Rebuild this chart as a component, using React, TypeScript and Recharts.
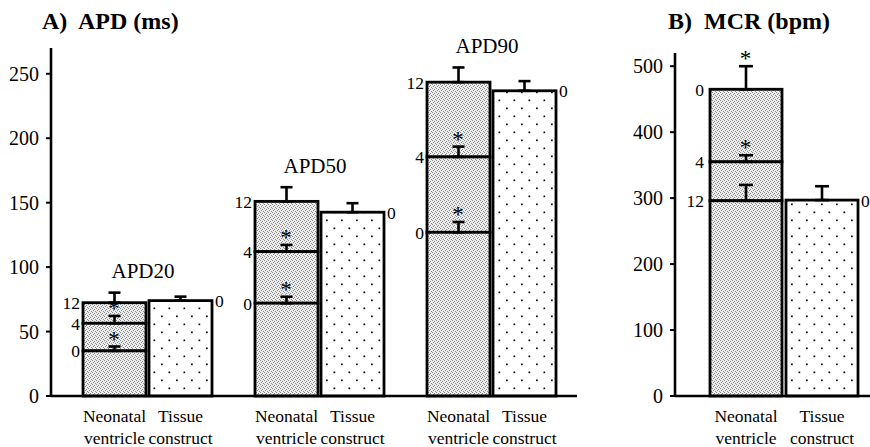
import React from 'react';
import { BarChart, Bar, XAxis, YAxis, ErrorBar, ReferenceDot } from 'recharts';

const FONT = '"Liberation Serif", "Times New Roman", Times, serif';

// ---------- Panel A: APD (ms) ----------
const apdCategories = ['APD20', 'APD50', 'APD90'];
const apdDay0 = [35, 72, 127];
const apdDay0Err = [3.4, 5, 8];
const apdDay4 = [56.4, 112, 185.5];
const apdDay4Err = [5.7, 5.2, 8];
const apdDay12 = [72.4, 151, 243.5];
const apdDay12Err = [7.8, 11, 11.4];
const apdTissue = [74, 142.6, 236.8];
const apdTissueErr = [3.1, 7, 7.5];
const apdStarDay0 = [true, true, true];
const apdStarDay4 = [true, true, true];
const apdStarDay12 = [false, false, false];
const apdTicks = [0, 50, 100, 150, 200, 250];

// ---------- Panel B: MCR (bpm) ----------
const mcrCategories = ['MCR'];
const mcrDay0 = [465];
const mcrDay0Err = [35];
const mcrDay4 = [355];
const mcrDay4Err = [10];
const mcrDay12 = [296];
const mcrDay12Err = [24];
const mcrTissue = [297];
const mcrTissueErr = [21];
const mcrStarDay0 = [true];
const mcrStarDay4 = [true];
const mcrStarDay12 = [false];
const mcrTicks = [0, 100, 200, 300, 400, 500];

// ---------- text labels ----------
const dayNames = ['0', '4', '12'];
const tissueDayName = '0';
const neonatalName = ['Neonatal', 'ventricle'];
const tissueName = ['Tissue', 'construct'];
const titleA = 'A)\u00a0 APD (ms)';
const titleB = 'B)\u00a0 MCR (bpm)';

type Level = { day: string; v: number; e: number; star: boolean };

function buildRows(
  cats: string[],
  d0: number[], e0: number[], s0: boolean[],
  d4: number[], e4: number[], s4: boolean[],
  d12: number[], e12: number[], s12: boolean[],
  t: number[], te: number[]
) {
  return cats.map((c, i) => {
    const lv: Level[] = [
      { day: dayNames[0], v: d0[i], e: e0[i], star: s0[i] },
      { day: dayNames[1], v: d4[i], e: e4[i], star: s4[i] },
      { day: dayNames[2], v: d12[i], e: e12[i], star: s12[i] },
    ].sort((a, b) => a.v - b.v);
    return {
      cat: c,
      s1: lv[0].v,
      s2: lv[1].v - lv[0].v,
      s3: lv[2].v - lv[1].v,
      e1: [0, lv[0].e],
      e2: [0, lv[1].e],
      e3: [0, lv[2].e],
      l1: lv[0].day,
      l2: lv[1].day,
      l3: lv[2].day,
      levels: lv,
      tissue: t[i],
      tissueErr: [0, te[i]],
    };
  });
}

const apdRows = buildRows(
  apdCategories,
  apdDay0, apdDay0Err, apdStarDay0,
  apdDay4, apdDay4Err, apdStarDay4,
  apdDay12, apdDay12Err, apdStarDay12,
  apdTissue, apdTissueErr
);
const mcrRows = buildRows(
  mcrCategories,
  mcrDay0, mcrDay0Err, mcrStarDay0,
  mcrDay4, mcrDay4Err, mcrStarDay4,
  mcrDay12, mcrDay12Err, mcrStarDay12,
  mcrTissue, mcrTissueErr
);

const BarName = ({ cx, y, lines }: { cx: number; y: number; lines: string[] }) => (
  <text x={cx} textAnchor="middle" fontSize={17.5} fontFamily={FONT} fill="#000">
    <tspan x={cx} y={y + 26}>{lines[0]}</tspan>
    <tspan x={cx} y={y + 47.5}>{lines[1]}</tspan>
  </text>
);

function makeSegShape(labelKey: string, fillId: string, labelGap: number, isBottom: boolean) {
  return (props: any) => {
    const { x, y, width, height } = props;
    const row = props.payload || props;
    return (
      <g>
        <rect x={x} y={y} width={width} height={height} fill={`url(#${fillId})`} stroke="#000" strokeWidth={2.8} />
        <text x={x - labelGap} y={y + 6.5} textAnchor="end" fontSize={17.5} fontFamily={FONT} fill="#000">
          {row[labelKey]}
        </text>
        {isBottom && <BarName cx={x + width / 2} y={y + height} lines={neonatalName} />}
      </g>
    );
  };
}

function makeTissueShape(fillId: string) {
  return (props: any) => {
    const { x, y, width, height } = props;
    return (
      <g>
        <rect x={x} y={y} width={width} height={height} fill={`url(#${fillId})`} stroke="#000" strokeWidth={2.8} />
        <text x={x + width + 3} y={y + 6.5} textAnchor="start" fontSize={17.5} fontFamily={FONT} fill="#000">
          {tissueDayName}
        </text>
        <BarName cx={x + width / 2} y={y + height} lines={tissueName} />
      </g>
    );
  };
}

function makeStar(shift: number) {
  return (p: any) => (
    <text x={p.cx - shift} y={p.cy} textAnchor="middle" fontSize={23} fontFamily={FONT} fill="#000">
      *
    </text>
  );
}

function makeGroupLabel(text: string) {
  return (p: any) => (
    <text x={p.cx - 4} y={p.cy - 14.5} textAnchor="middle" fontSize={21} fontFamily={FONT} fill="#000">
      {text}
    </text>
  );
}

const Patterns = ({ suffix }: { suffix: string }) => (
  <defs>
    <pattern id={`nv${suffix}`} patternUnits="userSpaceOnUse" width={4} height={4}>
      <rect x={0} y={0} width={4} height={4} fill="#ededed" />
      <rect x={0} y={0} width={1} height={1} fill="#8a8a8a" />
      <rect x={2} y={1} width={1} height={1} fill="#8a8a8a" />
      <rect x={1} y={2} width={1} height={1} fill="#8a8a8a" />
      <rect x={3} y={3} width={1} height={1} fill="#8a8a8a" />
    </pattern>
    <pattern id={`tc${suffix}`} patternUnits="userSpaceOnUse" width={15} height={16}>
      <rect x={0} y={0} width={15} height={16} fill="#ffffff" />
      <rect x={3.5} y={3.5} width={1.7} height={1.7} fill="#000" />
      <rect x={11} y={11.5} width={1.7} height={1.7} fill="#000" />
    </pattern>
  </defs>
);

function renderPanel(
  rows: any[],
  opts: {
    suffix: string;
    width: number;
    marginTop: number;
    marginRight: number;
    yWidth: number;
    padLeft: number;
    domainMax: number;
    ticks: number[];
    barSize: number;
    barGap: number;
    capHalf: number;
    labelGap: number;
    groupLabels: boolean;
  }
) {
  const nv = `nv${opts.suffix}`;
  const tc = `tc${opts.suffix}`;
  const shift = (opts.barSize + opts.barGap) / 2;
  const errProps = { stroke: '#000', strokeWidth: 2.6, width: opts.capHalf, isAnimationActive: false } as any;
  const dots: any[] = [];
  rows.forEach((r) => {
    r.levels.forEach((lv: Level, k: number) => {
      if (lv.star) {
        dots.push(
          <ReferenceDot key={`s${r.cat}${k}`} x={r.cat} y={lv.v + lv.e} r={0} shape={makeStar(shift)} />
        );
      }
    });
    if (opts.groupLabels) {
      const top = r.levels[2];
      dots.push(
        <ReferenceDot key={`g${r.cat}`} x={r.cat} y={top.v + top.e} r={0} shape={makeGroupLabel(r.cat)} />
      );
    }
  });
  return (
    <BarChart
      width={opts.width}
      height={447}
      data={rows}
      margin={{ top: opts.marginTop, right: opts.marginRight, bottom: 0, left: 0 }}
      barSize={opts.barSize}
      barGap={opts.barGap}
      reverseStackOrder
    >
      <Patterns suffix={opts.suffix} />
      <XAxis
        dataKey="cat"
        height={51}
        tick={false}
        tickLine={false}
        axisLine={{ stroke: '#000', strokeWidth: 2.6 }}
        padding={{ left: opts.padLeft, right: 0 }}
      />
      <YAxis
        width={opts.yWidth}
        domain={[0, opts.domainMax]}
        ticks={opts.ticks}
        interval={0}
        tickSize={5}
        tickMargin={7}
        axisLine={{ stroke: '#000', strokeWidth: 2.6 }}
        tickLine={{ stroke: '#000', strokeWidth: 2 }}
        tick={{ fontSize: 20, fill: '#000', fontFamily: FONT }}
      />
      <Bar dataKey="tissue" isAnimationActive={false} shape={makeTissueShape(tc)}>
        <ErrorBar dataKey="tissueErr" {...errProps} />
      </Bar>
      <Bar dataKey="s3" stackId="n" isAnimationActive={false} shape={makeSegShape('l3', nv, opts.labelGap, false)}>
        <ErrorBar dataKey="e3" {...errProps} />
      </Bar>
      <Bar dataKey="s2" stackId="n" isAnimationActive={false} shape={makeSegShape('l2', nv, opts.labelGap, false)}>
        <ErrorBar dataKey="e2" {...errProps} />
      </Bar>
      <Bar dataKey="s1" stackId="n" isAnimationActive={false} shape={makeSegShape('l1', nv, opts.labelGap, true)}>
        <ErrorBar dataKey="e1" {...errProps} />
      </Bar>
      {dots}
    </BarChart>
  );
}

export default function App() {
  return (
    <div
      style={{
        position: 'absolute',
        left: 0,
        top: 0,
        width: 870,
        height: 447,
        overflow: 'hidden',
        background: '#fff',
      }}
    >
      <div style={{ position: 'absolute', left: 0, top: 0 }}>
        {renderPanel(apdRows, {
          suffix: 'A',
          width: 600,
          marginTop: 48,
          marginRight: 23,
          yWidth: 51,
          padLeft: 10,
          domainMax: 270,
          ticks: apdTicks,
          barSize: 63,
          barGap: 3,
          capHalf: 6,
          labelGap: 3,
          groupLabels: true,
        })}
      </div>
      <div style={{ position: 'absolute', left: 600, top: 0 }}>
        {renderPanel(mcrRows, {
          suffix: 'B',
          width: 270,
          marginTop: 53,
          marginRight: 0,
          yWidth: 75,
          padLeft: 22,
          domainMax: 520,
          ticks: mcrTicks,
          barSize: 72,
          barGap: 4,
          capHalf: 7,
          labelGap: 6,
          groupLabels: false,
        })}
      </div>
      <svg
        width={870}
        height={447}
        style={{ position: 'absolute', left: 0, top: 0, pointerEvents: 'none' }}
      >
        <text x={42} y={29} fontSize={24} fontWeight="bold" fontFamily={FONT} fill="#000">
          {titleA}
        </text>
        <text x={668} y={29} fontSize={24} fontWeight="bold" fontFamily={FONT} fill="#000">
          {titleB}
        </text>
      </svg>
    </div>
  );
}
